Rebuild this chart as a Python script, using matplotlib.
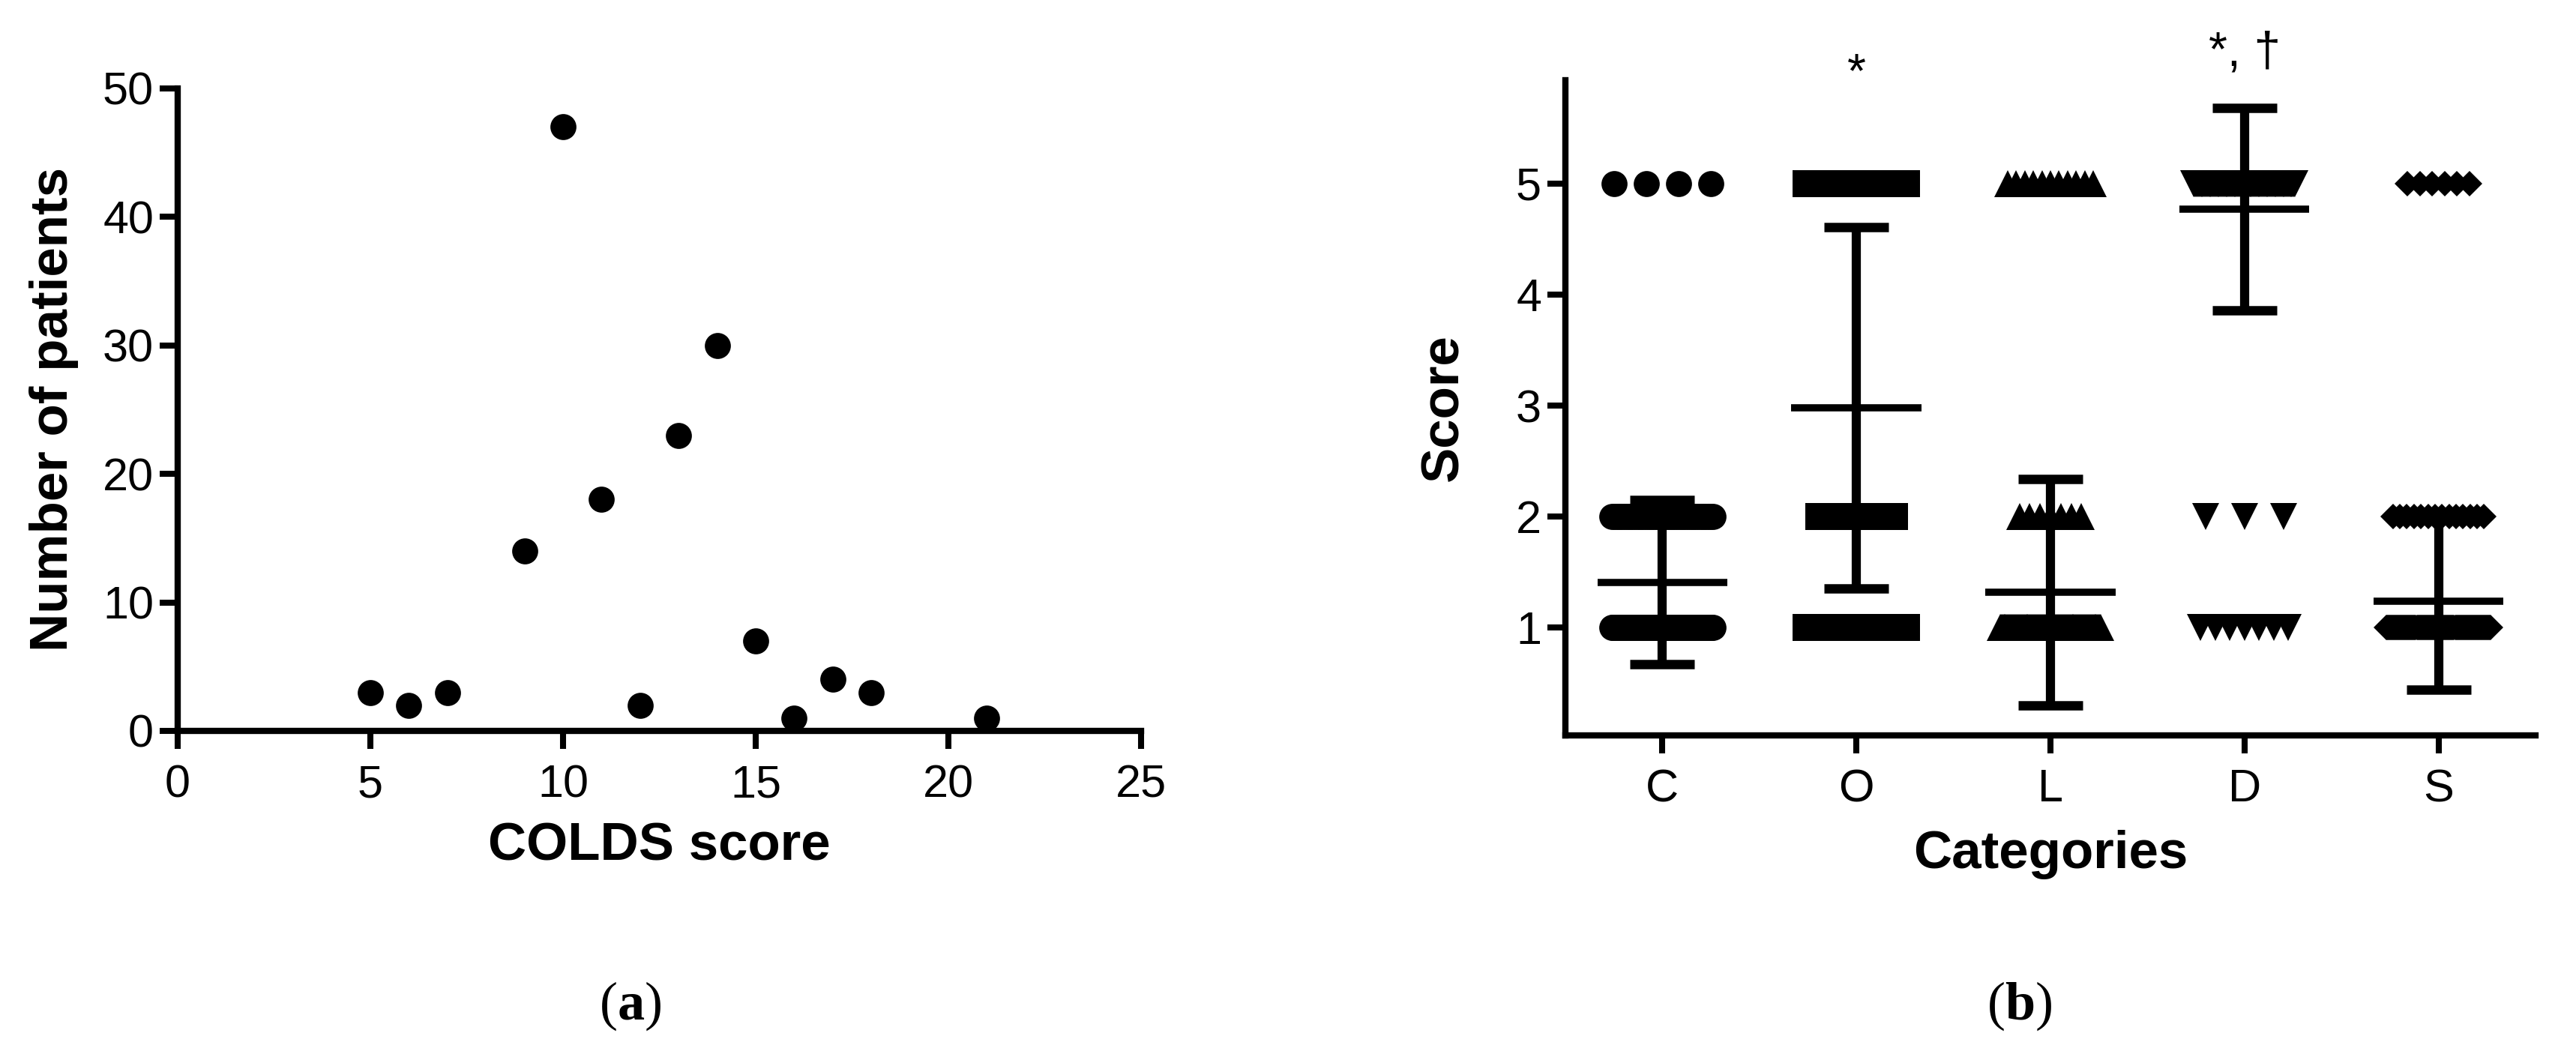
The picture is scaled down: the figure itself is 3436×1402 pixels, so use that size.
import numpy as np
import matplotlib
matplotlib.use('Agg')
import matplotlib.pyplot as plt

# ---- data ----
# (a) distribution of the COLDS score
colds_scores = [5, 6, 7, 9, 10, 11, 12, 13, 14, 15, 16, 17, 18, 21]
n_patients = [3, 2, 3, 14, 47, 18, 2, 23, 30, 7, 1, 4, 3, 1]

# (b) score per category; counts of patients at score 1, 2 and 5
categories = ['C', 'O', 'L', 'D', 'S']
score_levels = [1, 2, 5]
c_counts = [105, 49, 4]
o_counts = [60, 30, 68]
l_counts = [140, 7, 11]
d_counts = [7, 3, 148]
s_counts = [138, 14, 6]
means = [1.41, 2.98, 1.32, 4.77, 1.24]
sds = [0.74, 1.63, 1.02, 0.91, 0.80]
sig_labels = ['', '*', '', '*, \u2020', '']

# ---- style / layout ----
plt.rcParams['font.family'] = ['Liberation Sans', 'DejaVu Sans']
plt.rcParams['mathtext.fontset'] = 'custom'
plt.rcParams['mathtext.rm'] = 'Liberation Serif'
plt.rcParams['mathtext.bf'] = 'Liberation Serif:bold'

markers = ['o', 's', '^', 'v', 'D']
marker_sizes = [25, 26.5, 26, 26, 17.3]
# half width of the dot cloud for score 1, 2, 5 (category units)
spreads = [(0.26, 0.26, 0.25),
           (0.26, 0.195, 0.26),
           (0.26, 0.16, 0.22),
           (0.226, 0.20, 0.26),
           (0.27, 0.235, 0.16)]
sig_y = [0, 5.87, 0, 6.06, 0]


def style_axes(ax):
    for side in ['top', 'right']:
        ax.spines[side].set_visible(False)
    for side in ['left', 'bottom']:
        ax.spines[side].set_linewidth(6)
    ax.tick_params(axis='both', length=17, width=5.8, labelsize=44,
                   direction='out', color='black')
    ax.tick_params(axis='y', pad=6)
    ax.tick_params(axis='x', pad=15)


fig = plt.figure(figsize=(34.36, 14.02), dpi=100)
ax1 = fig.add_axes([0.06898, 0.30457, 0.37398, 0.61127])
ax2 = fig.add_axes([0.60768, 0.30029, 0.37660, 0.62340])

# panel (a)
style_axes(ax1)
ax1.plot(colds_scores, n_patients, 'o', ms=25, mew=0, color='black',
         clip_on=False, zorder=3)
ax1.set_xlim(0, 25)
ax1.set_ylim(0, 50)
ax1.set_xticks(range(0, 26, 5))
ax1.set_yticks(range(0, 51, 10))
ax1.set_xlabel('COLDS score', fontsize=51, fontweight='bold')
ax1.xaxis.set_label_coords(0.5, -0.142)
ax1.set_ylabel('Number of patients', fontsize=51, fontweight='bold')
ax1.yaxis.set_label_coords(-0.103, 0.5)

# panel (b)
style_axes(ax2)
all_counts = [c_counts, o_counts, l_counts, d_counts, s_counts]
for i, cat in enumerate(categories):
    for lvl, n, w in zip(score_levels, all_counts[i], spreads[i]):
        if n == 0:
            continue
        xs = i + (np.linspace(-w, w, n) if n > 1 else np.zeros(1))
        ax2.plot(xs, np.full(n, lvl), markers[i], ms=marker_sizes[i], mew=0,
                 color='black', clip_on=False, zorder=2)

x = np.arange(len(categories))
ax2.errorbar(x, means, yerr=sds, fmt='none', ecolor='black', elinewidth=8.8,
             capsize=31, capthick=9, zorder=3, clip_on=False)
ax2.hlines(means, x - 0.335, x + 0.335, colors='black', linewidth=6.9, zorder=3)

for i, lab in enumerate(sig_labels):
    if lab:
        ax2.text(i, sig_y[i], lab, ha='center', va='baseline', fontsize=46,
                 clip_on=False)

ax2.set_xlim(-0.5, 4.5)
ax2.set_ylim(0.03, 5.93)
ax2.set_xticks(x)
ax2.set_xticklabels(categories)
ax2.set_yticks([1, 2, 3, 4, 5])
ax2.set_xlabel('Categories', fontsize=51, fontweight='bold')
ax2.xaxis.set_label_coords(0.5, -0.144)
ax2.set_ylabel('Score', fontsize=51, fontweight='bold')
ax2.yaxis.set_label_coords(-0.099, 0.5)

# panel captions
fig.text(0.2445, 0.043, r'($\mathbf{a}$)', family='Liberation Serif',
         fontsize=52, ha='center', va='center')
fig.text(0.784, 0.043, r'($\mathbf{b}$)', family='Liberation Serif',
         fontsize=52, ha='center', va='center')

fig.savefig('out.png', dpi=100)
